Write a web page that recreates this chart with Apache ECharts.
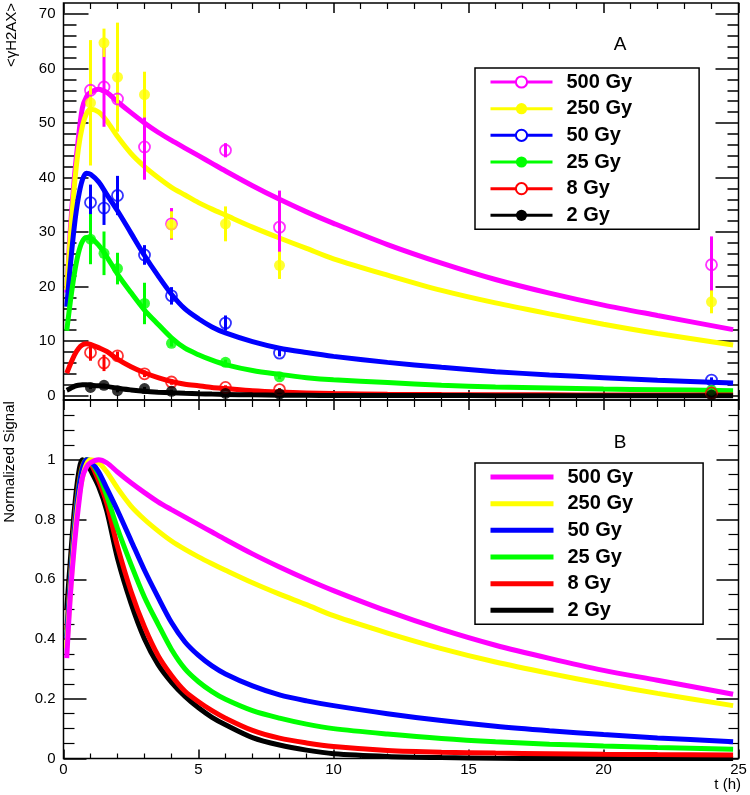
<!DOCTYPE html>
<html>
<head>
<meta charset="utf-8">
<script src="https://cdn.jsdelivr.net/npm/echarts@6/dist/echarts.min.js"></script>
<style>html,body{margin:0;padding:0;background:#fff}#c{width:750px;height:795px}</style>
</head>
<body>
<div id="c"></div>
<script>
// ---------- data ----------
const doseNames = ['500 Gy', '250 Gy', '50 Gy', '25 Gy', '8 Gy', '2 Gy'];
const doseColors = ['#ff00ff', '#ffff00', '#0000ff', '#00ff00', '#ff0000', '#000000'];
const doseOpen = [true, false, true, false, true, false];

// time samples of the fitted curves (h)
const tCurve = [0.12, 0.25, 0.4, 0.55, 0.7, 0.85, 1.0, 1.3, 1.6, 2.0, 2.5, 3.0, 3.5, 4.0, 4.5, 5, 5.5, 6, 7, 8, 9, 10, 12, 14, 16, 18, 20, 22, 24.8];

// panel A: fitted <gammaH2AX> curves
const fitA500 = [18.9, 30.3, 39.9, 47.2, 52.8, 54.8, 55.6, 56.2, 55.6, 53.9, 51.9, 50.0, 48.3, 46.8, 45.4, 44.0, 42.6, 41.2, 38.5, 36.0, 33.7, 31.6, 27.7, 24.3, 21.3, 18.8, 16.6, 14.7, 12.1];
const fitA250 = [19.4, 28.9, 38.3, 45.2, 49.4, 51.7, 52.5, 52.0, 50.4, 47.5, 44.4, 42.0, 40.0, 38.2, 36.8, 35.4, 34.2, 33.1, 30.9, 28.9, 27.0, 25.1, 22.1, 19.3, 17.0, 15.0, 13.1, 11.4, 9.3];
const fitA50  = [16.3, 23.7, 31.0, 36.3, 39.6, 40.8, 40.6, 39.2, 36.9, 33.9, 29.8, 25.7, 22.0, 18.6, 15.9, 14.1, 12.6, 11.5, 9.9, 8.7, 7.9, 7.2, 6.1, 5.2, 4.4, 3.8, 3.3, 2.8, 2.3];
const fitA25  = [11.9, 17.1, 22.3, 26.1, 28.3, 29.0, 28.9, 27.6, 25.5, 22.3, 18.9, 15.7, 13.1, 10.6, 8.7, 7.5, 6.5, 5.7, 4.6, 3.9, 3.3, 2.9, 2.4, 1.9, 1.6, 1.4, 1.2, 1.1, 0.9];
const fitA8   = [4.1, 5.7, 7.4, 8.6, 9.3, 9.5, 9.4, 8.8, 8.1, 6.7, 5.3, 4.2, 3.3, 2.6, 2.1, 1.8, 1.5, 1.3, 0.9, 0.65, 0.5, 0.38, 0.26, 0.2, 0.17, 0.15, 0.13, 0.12, 0.11];
const fitA2   = [1.0, 1.3, 1.7, 1.9, 2.0, 2.0, 1.9, 1.8, 1.7, 1.35, 1.05, 0.8, 0.63, 0.51, 0.42, 0.34, 0.28, 0.23, 0.14, 0.09, 0.06, 0.03, 0.01, 0.01, 0, 0, 0, 0, 0];

// panel B: normalized signal
const normB500 = [0.336, 0.54, 0.71, 0.84, 0.94, 0.975, 0.99, 1.0, 0.99, 0.959, 0.923, 0.89, 0.859, 0.833, 0.808, 0.783, 0.758, 0.733, 0.685, 0.641, 0.6, 0.562, 0.493, 0.432, 0.379, 0.335, 0.295, 0.262, 0.215];
const normB250 = [0.37, 0.55, 0.73, 0.86, 0.94, 0.985, 1.0, 0.99, 0.96, 0.905, 0.845, 0.8, 0.762, 0.728, 0.70, 0.675, 0.652, 0.63, 0.588, 0.55, 0.515, 0.478, 0.42, 0.368, 0.323, 0.285, 0.25, 0.218, 0.177];
const normB50  = [0.40, 0.58, 0.76, 0.89, 0.97, 1.0, 0.995, 0.96, 0.905, 0.83, 0.73, 0.63, 0.54, 0.455, 0.39, 0.345, 0.31, 0.283, 0.243, 0.213, 0.193, 0.177, 0.15, 0.127, 0.108, 0.093, 0.08, 0.069, 0.056];
const normB25  = [0.41, 0.59, 0.77, 0.90, 0.975, 1.0, 0.995, 0.95, 0.88, 0.77, 0.65, 0.54, 0.45, 0.365, 0.30, 0.257, 0.224, 0.198, 0.16, 0.135, 0.115, 0.1, 0.082, 0.067, 0.056, 0.048, 0.042, 0.037, 0.031];
const normB8   = [0.43, 0.60, 0.78, 0.91, 0.98, 1.0, 0.99, 0.93, 0.855, 0.71, 0.56, 0.44, 0.345, 0.278, 0.225, 0.19, 0.16, 0.135, 0.094, 0.068, 0.052, 0.04, 0.027, 0.021, 0.018, 0.016, 0.014, 0.013, 0.012];
const normB2   = [0.50, 0.66, 0.83, 0.95, 1.0, 0.99, 0.965, 0.91, 0.83, 0.67, 0.52, 0.40, 0.315, 0.255, 0.208, 0.17, 0.138, 0.113, 0.07, 0.045, 0.028, 0.016, 0.007, 0.003, 0.001, 0, 0, 0, 0];

// panel A: measured points and errors
const tPts = [1, 1.5, 2, 3, 4, 6, 8, 24];
const pts500 = [56.0, 56.6, 54.4, 45.6, 31.5, 45.0, 30.9, 24.0];
const err500 = [2.6, 7.3, 1.5, 6.0, 2.9, 1.3, 6.7, 5.2];
const pts250 = [53.7, 64.7, 58.4, 55.2, 31.3, 31.5, 23.9, 17.2];
const err250 = [11.5, 2.6, 10.0, 4.2, 2.5, 3.2, 2.5, 2.1];
const pts50  = [35.4, 34.4, 36.7, 25.8, 18.3, 13.3, 7.8, 2.85];
const err50  = [3.3, 3.1, 3.6, 1.8, 1.6, 1.4, 0.6, 0.5];
const pts25  = [28.7, 26.1, 23.3, 16.9, 9.6, 6.1, 3.45, 1.0];
const err25  = [4.6, 4.0, 2.9, 3.8, 0.6, 0.5, 0.4, 0.3];
const pts8   = [7.9, 6.0, 7.3, 4.0, 2.5, 1.5, 1.1, 0.5];
const err8   = [1.5, 1.5, 0.8, 0.6, 0.5, 0.4, 0.3, 0.2];
const pts2   = [1.5, 1.9, 0.9, 1.3, 0.8, 0.4, 0.3, 0.1];
const err2   = [0.3, 0.3, 0.3, 0.3, 0.3, 0.2, 0.2, 0.1];

const xTicksMajor = [0, 5, 10, 15, 20, 25];
const yTicksA = [0, 10, 20, 30, 40, 50, 60, 70];
const yMinorA = [2, 4, 6, 8, 12, 14, 16, 18, 22, 24, 26, 28, 32, 34, 36, 38, 42, 44, 46, 48, 52, 54, 56, 58, 62, 64, 66, 68];

const fitsA = [fitA500, fitA250, fitA50, fitA25, fitA8, fitA2];
const normsB = [normB500, normB250, normB50, normB25, normB8, normB2];
const ptsA = [pts500, pts250, pts50, pts25, pts8, pts2];
const errsA = [err500, err250, err50, err25, err8, err2];

// ---------- chart ----------
const FONT = 'Liberation Sans, Arial, Helvetica, sans-serif';
const chart = echarts.init(document.getElementById('c'), null, {renderer: 'canvas'});

function xAxisDef(grid, pos, showLabel, major, minor) {
  return {
    type: 'value', gridIndex: grid, position: pos, min: 0, max: 25, interval: 5,
    axisLine: {show: false, onZero: false}, splitLine: {show: false},
    axisTick: {show: true, inside: true, length: major, lineStyle: {color: '#000', width: 1.5}},
    minorTick: {show: true, splitNumber: 5, length: minor, lineStyle: {color: '#000', width: 1.2}},
    axisLabel: {show: showLabel, color: '#000', fontFamily: FONT, fontSize: 15, margin: 4}
  };
}
function yAxisA(pos, vals, len, showLabel) {
  return {
    type: 'value', gridIndex: 0, position: pos, min: -0.8, max: 72,
    axisLine: {show: false, onZero: false}, splitLine: {show: false}, minorTick: {show: false},
    axisTick: {show: true, inside: true, length: len, customValues: vals, lineStyle: {color: '#000', width: 1.5}},
    axisLabel: {show: showLabel, customValues: yTicksA, color: '#000', fontFamily: FONT, fontSize: 15, margin: 8}
  };
}
function yAxisB(pos, major, minor, showLabel) {
  return {
    type: 'value', gridIndex: 1, position: pos, min: 0, max: 1.2, interval: 0.2,
    axisLine: {show: false, onZero: false}, splitLine: {show: false},
    axisTick: {show: true, inside: true, length: major, lineStyle: {color: '#000', width: 1.5}},
    minorTick: {show: true, splitNumber: 4, length: minor, lineStyle: {color: '#000', width: 1.2}},
    axisLabel: {show: showLabel, showMaxLabel: false, color: '#000', fontFamily: FONT, fontSize: 15, margin: 8}
  };
}

const series = [];
// panel A curves
doseNames.forEach((n, i) => {
  series.push({
    type: 'line', name: n, xAxisIndex: 0, yAxisIndex: 0,
    data: tCurve.map((t, k) => [t, fitsA[i][k]]),
    symbol: doseOpen[i] ? 'emptyCircle' : 'circle', symbolSize: 11, showSymbol: false,
    smooth: 0.3, lineStyle: {width: 5, color: doseColors[i]}, itemStyle: {color: doseColors[i]},
    z: 2, silent: true
  });
});
// panel A error bars + points
doseNames.forEach((n, i) => {
  const c = doseColors[i];
  series.push({
    type: 'custom', name: n + ' err', xAxisIndex: 0, yAxisIndex: 0,
    data: tPts.map((t, k) => [t, ptsA[i][k], errsA[i][k]]),
    encode: {x: 0, y: 1},
    renderItem: function (params, api) {
      const x = api.value(0), y = api.value(1), e = api.value(2);
      const p1 = api.coord([x, y - e]), p2 = api.coord([x, y + e]);
      return {type: 'line', shape: {x1: p1[0], y1: p1[1], x2: p2[0], y2: p2[1]}, style: {stroke: c, lineWidth: 3}};
    },
    z: 3, silent: true
  });
  series.push({
    type: 'scatter', name: n + ' pts', xAxisIndex: 0, yAxisIndex: 0,
    data: tPts.map((t, k) => [t, ptsA[i][k]]),
    symbol: 'circle', symbolSize: 11,
    itemStyle: doseOpen[i] ? {color: 'rgba(255,255,255,0)', borderColor: c, borderWidth: 1.8} : {color: c},
    z: 4, silent: true
  });
});
// panel B curves (drawn black first, magenta on top)
for (let i = doseNames.length - 1; i >= 0; i--) {
  series.push({
    type: 'line', name: doseNames[i], xAxisIndex: 2, yAxisIndex: 4,
    data: tCurve.map((t, k) => [t, normsB[i][k]]),
    symbol: 'none', smooth: 0.3,
    lineStyle: {width: 5, color: doseColors[i]}, itemStyle: {color: doseColors[i]},
    z: 2, silent: true
  });
}

const legendText = {fontFamily: FONT, fontSize: 20, fontWeight: 'bold', color: '#000', lineHeight: 20, padding: [0, 0, 0, 9]};

const option = {
  animation: false,
  backgroundColor: '#fff',
  grid: [
    {left: 63.5, top: 3, width: 675, height: 397, show: true, borderColor: '#000', borderWidth: 1.5, backgroundColor: 'transparent', outerBoundsMode: 'none', containLabel: false},
    {left: 63.5, top: 400, width: 675, height: 358.5, show: true, borderColor: '#000', borderWidth: 1.5, backgroundColor: 'transparent', outerBoundsMode: 'none', containLabel: false}
  ],
  xAxis: [
    xAxisDef(0, 'bottom', false, 10, 5),
    xAxisDef(0, 'top', false, 10, 6),
    Object.assign(xAxisDef(1, 'bottom', true, 9, 5), {axisLabel: {show: true, color: '#000', fontFamily: FONT, fontSize: 15, margin: 4, customValues: xTicksMajor}}),
    xAxisDef(1, 'top', false, 10, 7)
  ],
  yAxis: [
    yAxisA('left', yTicksA, 25, true),
    yAxisA('left', yMinorA, 13, false),
    yAxisA('right', yTicksA, 23, false),
    yAxisA('right', yMinorA, 11, false),
    yAxisB('left', 23, 11, true),
    yAxisB('right', 22, 10, false)
  ],
  legend: [
    {
      data: doseNames, orient: 'vertical', left: 475, top: 68,
      itemWidth: 62, itemHeight: 14, itemGap: 6.67, padding: [4, 67, 4, 14],
      borderColor: '#000', borderWidth: 1.5, backgroundColor: '#fff',
      textStyle: legendText, lineStyle: {width: 3}, selectedMode: false
    },
    {
      data: doseNames, orient: 'vertical', left: 475, top: 463,
      itemWidth: 63, itemHeight: 14, itemGap: 6.67, padding: [4, 70, 4, 13],
      borderColor: '#000', borderWidth: 1.5, backgroundColor: '#fff',
      textStyle: legendText, lineStyle: {width: 5}, itemStyle: {opacity: 0}, selectedMode: false
    }
  ],
  graphic: [
    {type: 'text', x: 12, y: 35, rotation: Math.PI / 2, style: {text: '<γH2AX>', fill: '#000', font: '15px ' + FONT, textAlign: 'center', textVerticalAlign: 'middle'}},
    {type: 'text', x: 10, y: 462, rotation: Math.PI / 2, style: {text: 'Normalized Signal', fill: '#000', font: '15px ' + FONT, textAlign: 'center', textVerticalAlign: 'middle'}},
    {type: 'text', x: 620, y: 45, style: {text: 'A', fill: '#000', font: '19px ' + FONT, textAlign: 'center', textVerticalAlign: 'middle'}},
    {type: 'text', x: 620, y: 443, style: {text: 'B', fill: '#000', font: '19px ' + FONT, textAlign: 'center', textVerticalAlign: 'middle'}},
    {type: 'text', x: 741, y: 785, style: {text: 't (h)', fill: '#000', font: '15px ' + FONT, textAlign: 'right', textVerticalAlign: 'middle'}}
  ],
  series: series
};
chart.setOption(option);
</script>
</body>
</html>
